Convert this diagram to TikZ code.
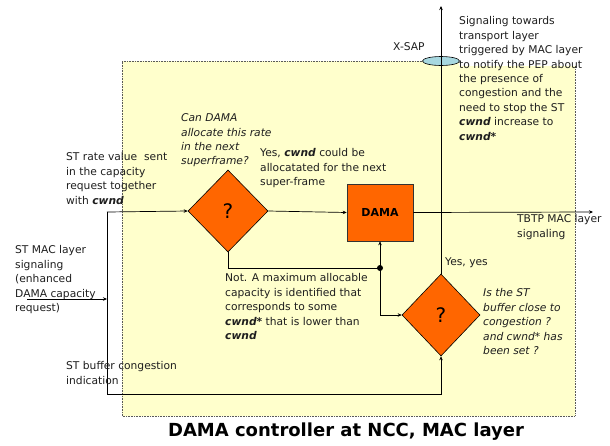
\documentclass[tikz,border=0pt]{standalone}
\usepackage{fontspec}
\setmainfont{DejaVu Sans}
\usetikzlibrary{shapes.geometric,arrows.meta}
\definecolor{bgyellow}{HTML}{FFFFCC}
\definecolor{dorange}{HTML}{FF6600}
\definecolor{sapblue}{HTML}{A8D8E0}
\definecolor{txt}{HTML}{1E1E1E}
\tikzset{
  lbl/.style={anchor=north west,inner sep=0pt,align=left,text=txt,font=\fontsize{10.7}{14.4}\selectfont},
  ilbl/.style={lbl,font=\fontsize{10.7}{14.4}\selectfont\itshape},
  conn/.style={draw=black,line width=0.7pt},
  arr/.style={conn,-{Stealth[length=4pt,width=3.5pt]}},
  dec/.style={diamond,draw=black,line width=0.6pt,fill=dorange,inner sep=0pt,font=\fontsize{20}{20}\selectfont},
  dotb/.style={draw=gray!70!black,line width=0.6pt,dash pattern=on 0.8pt off 0.8pt}
}
\newcommand{\cw}{\textbf{\textit{cwnd}}}
\begin{document}
\begin{tikzpicture}[x=1pt,y=-1pt]
\useasboundingbox (0,0) rectangle (610,445);
% background area
\fill[bgyellow] (122,61) -- (459,61) -- (459,66) -- (575,66) -- (575,416) -- (122,416) -- cycle;
\draw[dotb] (459,61) -- (122,61) -- (122,416) -- (575,416) -- (575,66);
% nodes
\node[dec,minimum width=80pt,minimum height=82pt] (d1) at (228,211) {?};
\node[draw=black!80,line width=0.6pt,fill=dorange,minimum width=66pt,minimum height=57pt,inner sep=0pt,font=\fontsize{11}{11}\selectfont\bfseries] (dama) at (380,212.5) {DAMA};
\node[dec,minimum width=78pt,minimum height=82pt] (d2) at (441,315) {?};
\node[ellipse,draw=black,line width=0.6pt,fill=sapblue,minimum width=37pt,minimum height=9pt,inner sep=0pt] (xsap) at (441,61) {};
\node[circle,fill=black,inner sep=0pt,minimum size=6pt] (dot) at (380,268) {};
% coordinates
\coordinate (lt) at (107,212);
\coordinate (lb) at (107,394);
\coordinate (rb) at (441,394);
\coordinate (inS) at (27,299);
\coordinate (inE) at (107,299);
\coordinate (tbtp) at (593,212);
\coordinate (top) at (441,6);
% connectors
\draw[arr] (inS) -- (inE);
\draw[conn] (lb) -- (lt);
\draw[arr] (lt) -- (d1.west);
\draw[arr] (d1.east) -- (dama.west);
\draw[arr] (dama.east) -- (tbtp);
\draw[arr] (lb) -- (rb) -- (d2.south);
\draw[conn] (d1.south) |- (dot.center);
\draw[arr] (dot.center) -- (dama.south);
\draw[arr] (dot.center) |- (d2.west);
\draw[arr] (d2.north) -- (top);
% labels
\node[ilbl] (q1) at (181,113.5) {Can DAMA\\allocate this rate\\in the next\\superframe?};
\node[lbl] (strate) at (66,152.5) {ST rate value\ \ sent\\in the capacity\\request together\\with \cw};
\node[lbl] (yes1) at (260,148.5) {Yes, \cw{} could be\\allocatated for the next\\super-frame};
\node[lbl] (sig) at (459,16.5) {Signaling towards\\transport layer\\triggered by MAC layer\\to notify the PEP about\\the presence of\\congestion and the\\need to stop the ST\\\cw{} increase to\\\textbf{\textit{cwnd*}}};
\node[lbl,anchor=west] (xsapl) at (393,47) {X-SAP};
\node[lbl] (tbtpl) at (517,214.5) {TBTP MAC layer\\signaling};
\node[lbl] (notl) at (225,273.5) {Not. A maximum allocable\\capacity is identified that\\corresponds to some\\\textbf{\textit{cwnd*}} that is lower than\\\cw};
\node[lbl,anchor=west] (yesyes) at (445,263) {Yes, yes};
\node[ilbl] (q2) at (483,288.5) {Is the ST\\buffer close to\\congestion ?\\and cwnd* has\\been set ?};
\node[lbl] (stmac) at (15,245.5) {ST MAC layer\\signaling\\(enhanced\\DAMA capacity\\request)};
\node[lbl] (stbuf) at (66,361.5) {ST buffer congestion\\indication};
\node[font=\fontsize{18}{18}\selectfont\bfseries,text=black,inner sep=0pt] (title) at (346,432) {DAMA controller at NCC, MAC layer};
\end{tikzpicture}
\end{document}
